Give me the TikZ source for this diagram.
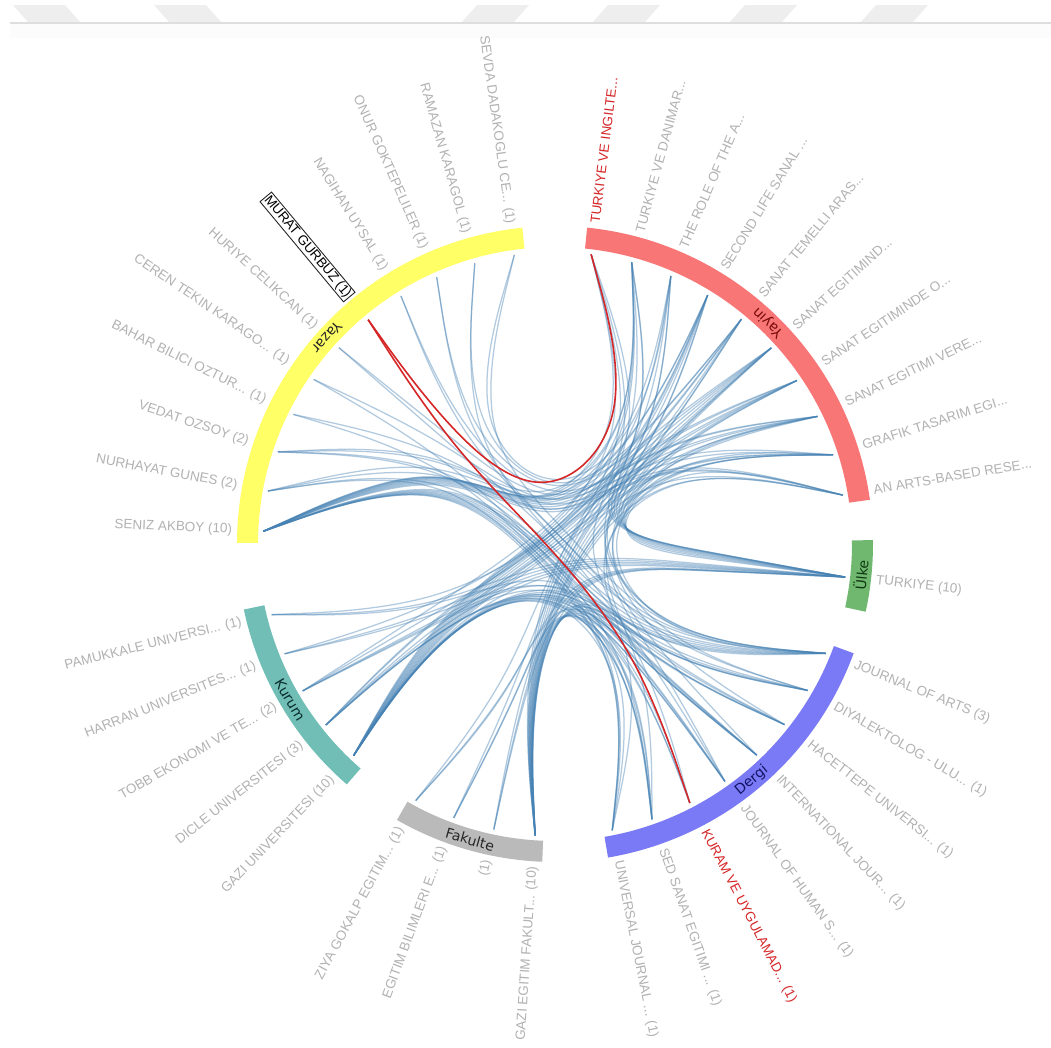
\documentclass[tikz,border=0pt]{standalone}
\usepackage{fontspec}
\setmainfont{Liberation Sans}
\newfontfamily\glabfont{DejaVu Sans}
\usetikzlibrary{calc}
\definecolor{linkblue}{RGB}{70,130,180}
\definecolor{hlred}{RGB}{214,39,40}
\definecolor{labgray}{RGB}{178,178,178}
\definecolor{cyaz}{RGB}{255,255,102}
\definecolor{cyay}{RGB}{248,118,118}
\definecolor{culk}{RGB}{112,184,112}
\definecolor{cder}{RGB}{122,122,246}
\definecolor{cfak}{RGB}{186,186,186}
\definecolor{ckur}{RGB}{112,190,182}
\definecolor{hdrshape}{RGB}{238,238,238}
\definecolor{hdrline}{RGB}{222,222,222}
\definecolor{hdrband}{RGB}{252,252,252}
% bundled link: #2 start, #3 group of start, #4 group of end, #5 end (tension 0.87)
\newcommand\linkchord[5][link]{%
 \path ($0.87*(#3)+0.0975*(#2)+0.0325*(#5)$) coordinate (q1)
       ($0.87*(O)+0.065*(#2)+0.065*(#5)$) coordinate (q2)
       ($0.87*(#4)+0.0325*(#2)+0.0975*(#5)$) coordinate (q3);
 \draw[#1] (#2) -- ($(#2)!1/6!(q1)$)
   .. controls ($(#2)!1/3!(q1)$) and ($(#2)!2/3!(q1)$) .. ($0.1666667*(#2)+0.6666667*(q1)+0.1666667*(q2)$)
   .. controls ($(q1)!1/3!(q2)$) and ($(q1)!2/3!(q2)$) .. ($0.1666667*(q1)+0.6666667*(q2)+0.1666667*(q3)$)
   .. controls ($(q2)!1/3!(q3)$) and ($(q2)!2/3!(q3)$) .. ($0.1666667*(q2)+0.6666667*(q3)+0.1666667*(#5)$)
   .. controls ($(q3)!1/3!(#5)$) and ($(q3)!2/3!(#5)$) .. ($(q3)!5/6!(#5)$) -- (#5);}
\newcommand\grouparc[3]{%
  \fill[#1] ($(O)+(#2:297pt)$) arc[start angle=#2, end angle=#3, radius=297pt]
    -- ($(O)+(#3:318pt)$) arc[start angle=#3, end angle=#2, radius=318pt] -- cycle;}
\begin{document}
\begin{tikzpicture}[x=1pt,y=1pt,
  link/.style={draw=linkblue, draw opacity=0.42, line width=1.25pt},
  hl/.style={draw=hlred, line width=1.6pt},
  lab/.style={text=labgray, inner sep=0pt, font=\fontsize{13.5}{15}\selectfont},
  glab/.style={inner sep=0pt, font=\glabfont\fontsize{14}{16}\selectfont}]
\useasboundingbox (0,0) rectangle (1051,-1047);
\fill[white] (0,0) rectangle (1051,-1047);
% header
\fill[hdrband] (10,-24) rectangle (1051,-38);
\foreach \a in {13,154}
  \fill[hdrshape] (\a,-5) -- (\a+52,-5) -- (\a+67,-22) -- (\a+15,-22) -- cycle;
\foreach \a in {462,593,730,861}
  \fill[hdrshape] (\a+15,-5) -- (\a+67,-5) -- (\a+52,-22) -- (\a,-22) -- cycle;
\draw[hdrline, line width=1.5pt] (10,-23) -- (1051,-23);

\coordinate (O) at (555,-544);
% item end points
\foreach \n/\a in {1/98,2/105.95,3/113.9,4/121.85,5/129.8,6/137.75,7/145.7,8/153.65,9/161.6,10/169.55,11/177.5}
  \coordinate (yaz\n) at ($(O)+(\a:292pt)$);
\foreach \n/\a in {1/82.9,2/74.76,3/66.62,4/58.48,5/50.34,6/42.2,7/34.06,8/25.92,9/17.78,10/9.64}
  \coordinate (yay\n) at ($(O)+(\a:292pt)$);
\coordinate (ulk1) at ($(O)+(-6.5:292pt)$);
\foreach \n/\a in {1/-22,2/-30.1,3/-38.2,4/-46.3,5/-54.4,6/-62.5,7/-70.6,8/-78.7}
  \coordinate (der\n) at ($(O)+(\a:292pt)$);
\foreach \n/\a in {1/241.5,2/249.7,3/257.9,4/266.1}
  \coordinate (fak\n) at ($(O)+(\a:292pt)$);
\foreach \n/\a in {1/194,2/202.1,3/210.2,4/218.3,5/226.4}
  \coordinate (kur\n) at ($(O)+(\a:292pt)$);
% group bundling points
\coordinate (gyaz) at ($(O)+(137.75:140pt)$);
\coordinate (gyay) at ($(O)+(46.27:140pt)$);
\coordinate (gulk) at ($(O)+(-6.5:140pt)$);
\coordinate (gder) at ($(O)+(-50.35:140pt)$);
\coordinate (gfak) at ($(O)+(253.8:140pt)$);
\coordinate (gkur) at ($(O)+(210.2:140pt)$);

% links: author - publication
\foreach \p/\q in {11/1,11/2,9/2,11/3,1/3,11/4,10/4,11/5,2/5,11/6,3/6,11/7,9/7,11/8,4/8,6/8,11/9,7/9,11/10,8/10,10/10}
  {\linkchord{yaz\p}{gyaz}{gyay}{yay\q}}
% author - journal
\foreach \p/\q in {11/1,11/2,11/3,11/4,11/5,11/6,11/7,11/8,9/1,9/3,1/1,10/4,10/8,2/5,3/2,4/1,6/1,7/7,8/8}
  {\linkchord{yaz\p}{gyaz}{gder}{der\q}}
% journal - publication
\foreach \p/\q in {6/1,1/2,1/3,4/4,5/5,2/6,3/7,1/8,7/9,8/10}
  {\linkchord{yay\q}{gyay}{gder}{der\p}}
% publication - country
\foreach \q in {1,...,10}
  {\linkchord{yay\q}{gyay}{gulk}{ulk1}}
% publication - faculty
\foreach \q/\f in {1/4,2/4,3/4,4/4,5/4,6/4,7/4,8/4,9/4,10/4,4/1,6/2,9/3}
  {\linkchord{yay\q}{gyay}{gfak}{fak\f}}
% publication - institution
\foreach \q/\k in {1/5,2/5,3/5,4/5,5/5,6/5,7/5,8/5,9/5,10/5,2/3,7/3,4/4,5/4,9/4,6/2,8/1}
  {\linkchord{yay\q}{gyay}{gkur}{kur\k}}
% journal - institution
\foreach \j/\k in {1/5,1/3,1/1,2/5,2/2,3/5,3/3,4/5,4/4,5/5,5/4,6/5,7/5,7/4,8/5}
  {\linkchord{der\j}{gder}{gkur}{kur\k}}
% journal - faculty
\foreach \j/\f in {1/4,2/4,2/2,3/4,4/4,4/1,5/4,6/4,7/4,7/3,8/4}
  {\linkchord{der\j}{gder}{gfak}{fak\f}}
% institution - country, faculty - country
\foreach \k in {1,...,5}
  {\linkchord{kur\k}{gkur}{gulk}{ulk1}}
\foreach \f in {1,...,4}
  {\linkchord{fak\f}{gfak}{gulk}{ulk1}}
% highlighted links
\linkchord[hl]{yaz5}{gyaz}{gyay}{yay1}
\linkchord[hl]{yaz5}{gyaz}{gder}{der6}

% group arcs
\grouparc{cyaz}{95.9}{179.8}
\grouparc{cyay}{8}{84.2}
\grouparc{culk}{-12.3}{0.7}
\grouparc{cder}{-80.4}{-20.1}
\grouparc{cfak}{240.2}{267.7}
\grouparc{ckur}{191.9}{229.1}

% group labels
\node[glab, text=black!85, rotate=137.85+90] (tyaz) at ($(O)+(137.85:307.5pt)$) {Yazar};
\node[glab, text={rgb,255:red,120;green,10;blue,10}, rotate=46.1+90] (tyay) at ($(O)+(46.1:307.5pt)$) {Yayin};
\node[glab, text={rgb,255:red,15;green,55;blue,15}, rotate=-5.8+90] (tulk) at ($(O)+(-5.8:307.5pt)$) {Ülke};
\node[glab, text={rgb,255:red,20;green,20;blue,100}, rotate=-50.25+90] (tder) at ($(O)+(-50.25:307.5pt)$) {Dergi};
\node[glab, text=black!85, rotate=253.95+90] (tfak) at ($(O)+(253.95:307.5pt)$) {Fakulte};
\node[glab, text={rgb,255:red,10;green,45;blue,45}, rotate=210.5+90] (tkur) at ($(O)+(210.5:307.5pt)$) {Kurum};

% item labels, left side
\foreach \n/\a/\t in {1/98/{SEVDA DADAKOGLU CE... (1)},2/105.95/{RAMAZAN KARAGOL (1)},3/113.9/{ONUR GOKTEPELILER (1)},4/121.85/{NAGIHAN UYSAL (1)},6/137.75/{HURIYE CELIKCAN (1)},7/145.7/{CEREN TEKIN KARAGO... (1)},8/153.65/{BAHAR BILICI OZTUR... (1)},9/161.6/{VEDAT OZSOY (2)},10/169.55/{NURHAYAT GUNES (2)},11/177.5/{SENIZ AKBOY (10)}}
  \node[lab, anchor=east, rotate=\a-180] (lyaz\n) at ($(O)+(\a:323pt)$) {\t};
\node[lab, text=black, draw=black!85, line width=0.9pt, inner sep=1.2pt, anchor=east, rotate=129.8-180] (lyaz5) at ($(O)+(129.8:321pt)$) {MURAT GURBUZ (1)};
\foreach \n/\a/\t in {1/241.5/{ZIYA GOKALP EGITIM... (1)},2/249.7/{EGITIM BILIMLERI E... (1)},3/257.9/{(1)},4/266.1/{GAZI EGITIM FAKULT... (10)}}
  \node[lab, anchor=east, rotate=\a-180] (lfak\n) at ($(O)+(\a:323pt)$) {\t};
\foreach \n/\a/\t in {1/194/{PAMUKKALE UNIVERSI... (1)},2/202.1/{HARRAN UNIVERSITES... (1)},3/210.2/{TOBB EKONOMI VE TE... (2)},4/218.3/{DICLE UNIVERSITESI (3)},5/226.4/{GAZI UNIVERSITESI (10)}}
  \node[lab, anchor=east, rotate=\a-180] (lkur\n) at ($(O)+(\a:323pt)$) {\t};
% item labels, right side
\node[lab, text=hlred, anchor=west, rotate=82.9] (lyay1) at ($(O)+(82.9:323pt)$) {TURKIYE VE INGILTE...};
\foreach \n/\a/\t in {2/74.76/{TURKIYE VE DANIMAR...},3/66.62/{THE ROLE OF THE A...},4/58.48/{SECOND LIFE SANAL ...},5/50.34/{SANAT TEMELLI ARAS...},6/42.2/{SANAT EGITIMIND...},7/34.06/{SANAT EGITIMINDE O...},8/25.92/{SANAT EGITIMI VERE...},9/17.78/{GRAFIK TASARIM EGI...},10/9.64/{AN ARTS-BASED RESE...}}
  \node[lab, anchor=west, rotate=\a] (lyay\n) at ($(O)+(\a:323pt)$) {\t};
\node[lab, anchor=west, rotate=-6.5] (lulk1) at ($(O)+(-6.5:323pt)$) {TURKIYE (10)};
\foreach \n/\a/\t in {1/-22/{JOURNAL OF ARTS (3)},2/-30.1/{DIYALEKTOLOG - ULU... (1)},3/-38.2/{HACETTEPE UNIVERSI... (1)},4/-46.3/{INTERNATIONAL JOUR... (1)},5/-54.4/{JOURNAL OF HUMAN S... (1)},7/-70.6/{SED SANAT EGITIMI ... (1)},8/-78.7/{UNIVERSAL JOURNAL ... (1)}}
  \node[lab, anchor=west, rotate=\a] (lder\n) at ($(O)+(\a:323pt)$) {\t};
\node[lab, text=hlred, anchor=west, rotate=-62.5] (lder6) at ($(O)+(-62.5:323pt)$) {KURAM VE UYGULAMAD... (1)};
\end{tikzpicture}
\end{document}
